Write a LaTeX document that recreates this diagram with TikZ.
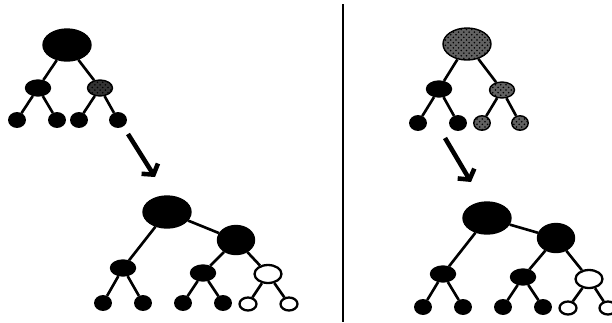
\documentclass[tikz,border=0pt]{standalone}
\usetikzlibrary{arrows.meta,shapes.geometric,patterns}

\begin{document}
\begin{tikzpicture}[x=0.02cm,y=-0.02cm,
    every node/.style={ellipse,inner sep=0pt,draw,line width=.8pt,fill=black},
    rootnode/.style={minimum width=.96cm,minimum height=.64cm},
    midnode/.style={minimum width=.74cm,minimum height=.58cm},
    kidnode/.style={minimum width=.5cm,minimum height=.32cm},
    leafnode/.style={minimum width=.33cm,minimum height=.29cm},
    opennode/.style={fill=white,line width=1.3pt},
    grainy/.style={fill=black!80,postaction={pattern=crosshatch dots,pattern color=black}},
    speckled/.style={fill=black!62,postaction={pattern=crosshatch dots,pattern color=black}},
    branch/.style={line width=1.5pt},
    hop/.style={line width=2.6pt,-{Straight Barb[length=4pt,width=11pt]}}]

    \useasboundingbox (0,0) rectangle (612,322);

    % before, left
    \node[rootnode] (TLR) at (67,45) {};
    \node[kidnode] (TLA) at (38,88) {};
    \node[kidnode,grainy] (TLB) at (100,88) {};
    \foreach \x [count=\i] in {17,57,79,118} \node[leafnode] (TL\i) at (\x,120) {};

    \draw[branch] (TLR) -- (TLA) (TLR) -- (TLB);
    \draw[branch] (TLA) -- (TL1) (TLA) -- (TL2) (TLB) -- (TL3) (TLB) -- (TL4);

    % after, left
    \node[rootnode] (BLR) at (167,212) {};
    \node[midnode] (BLM) at (236,240) {};
    \node[kidnode] (BLA) at (123,268) {};
    \node[kidnode] (BLB) at (203,273) {};
    \node[kidnode,opennode,minimum width=.54cm,minimum height=.36cm] (BLC) at (268,274) {};
    \foreach \x [count=\i] in {103,143,183,223} \node[leafnode] (BL\i) at (\x,303) {};
    \foreach \x [count=\i from 5] in {248,289} \node[leafnode,opennode,minimum width=.34cm,minimum height=.26cm] (BL\i) at (\x,304) {};

    \draw[branch] (BLR) -- (BLA) (BLR) -- (BLM) (BLM) -- (BLB) (BLM) -- (BLC);
    \draw[branch] (BLA) -- (BL1) (BLA) -- (BL2) (BLB) -- (BL3) (BLB) -- (BL4) (BLC) -- (BL5) (BLC) -- (BL6);

    % before, right
    \node[rootnode,speckled] (TRR) at (467,44) {};
    \node[kidnode] (TRA) at (439,89) {};
    \node[kidnode,speckled] (TRB) at (502,90) {};
    \foreach \x [count=\i] in {418,458} \node[leafnode] (TR\i) at (\x,123) {};
    \foreach \x [count=\i from 3] in {482,520} \node[leafnode,speckled] (TR\i) at (\x,123) {};

    \draw[branch] (TRR) -- (TRA) (TRR) -- (TRB);
    \draw[branch] (TRA) -- (TR1) (TRA) -- (TR2) (TRB) -- (TR3) (TRB) -- (TR4);

    % after, right
    \node[rootnode] (BRR) at (487,218) {};
    \node[midnode] (BRM) at (556,238) {};
    \node[kidnode] (BRA) at (443,274) {};
    \node[kidnode] (BRB) at (523,277) {};
    \node[kidnode,opennode,minimum width=.54cm,minimum height=.36cm] (BRC) at (589,279) {};
    \foreach \x [count=\i] in {423,463,503,543} \node[leafnode] (BR\i) at (\x,307) {};
    \foreach \x [count=\i from 5] in {568,608} \node[leafnode,opennode,minimum width=.34cm,minimum height=.26cm] (BR\i) at (\x,308) {};

    \draw[branch] (BRR) -- (BRA) (BRR) -- (BRM) (BRM) -- (BRB) (BRM) -- (BRC);
    \draw[branch] (BRA) -- (BR1) (BRA) -- (BR2) (BRB) -- (BR3) (BRB) -- (BR4) (BRC) -- (BR5) (BRC) -- (BR6);

    % arrows and divider
    \coordinate (LFROM) at (128,134);
    \coordinate (LTO) at (155,177);
    \coordinate (RFROM) at (445,138);
    \coordinate (RTO) at (471,182);
    \draw[hop] (LFROM) -- (LTO);
    \draw[hop] (RFROM) -- (RTO);

    \coordinate (SPLITTOP) at (343,4);
    \coordinate (SPLITBOT) at (343,322);
    \draw[line width=.8pt] (SPLITTOP) -- (SPLITBOT);

\end{tikzpicture}
\end{document}
